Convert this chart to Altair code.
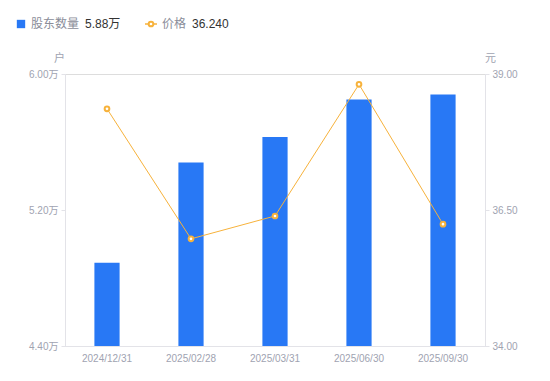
import altair as alt
import pandas as pd

dates = ["2024/12/31", "2025/02/28", "2025/03/31", "2025/06/30", "2025/09/30"]
holders = [48900, 54800, 56300, 58500, 58800]
prices = [38.36, 35.97, 36.39, 38.81, 36.24]

left_ticks = [44000, 52000, 60000]
right_ticks = [34.0, 36.5, 39.0]

BLUE = "#2878F5"
ORANGE = "#F7B23B"
GRAY = "#A0A3B1"
FONT = "Liberation Sans, Noto Sans CJK SC"

df = pd.DataFrame({"date": dates, "holders": holders, "price": prices})

xenc = alt.X(
    "date:N",
    sort=dates,
    scale=alt.Scale(paddingInner=0.7, paddingOuter=0.35),
    axis=alt.Axis(
        title=None, labelAngle=0, ticks=False, labelPadding=7,
        labelColor=GRAY, labelFontSize=10, labelFont=FONT,
        domainColor="#E3E3E8", grid=False,
    ),
)

bars = alt.Chart(df).mark_bar(color=BLUE, clip=True).encode(
    x=xenc,
    y=alt.Y(
        "holders:Q",
        scale=alt.Scale(domain=[44000, 60000], zero=False, nice=False),
        axis=alt.Axis(
            values=left_ticks,
            labelExpr="format(datum.value/10000, '.2f') + '万'",
            title="户", titleAngle=0, titleX=-6, titleY=-16,
            titleAlign="center", titleBaseline="middle",
            titleColor=GRAY, titleFontSize=11, titleFontWeight="normal", titleFont=FONT,
            labelColor=GRAY, labelFontSize=10, labelFont=FONT,
            tickSize=4, tickColor="#E3E3E8", domainColor="#E3E3E8",
            labelPadding=3, grid=False, orient="left",
        ),
    ),
)

line = alt.Chart(df).mark_line(
    color=ORANGE, strokeWidth=1,
    point=alt.OverlayMarkDef(filled=True, fill="white", stroke=ORANGE, strokeWidth=2, size=22),
).encode(
    x=alt.X("date:N", sort=dates),
    y=alt.Y(
        "price:Q",
        scale=alt.Scale(domain=[34, 39], zero=False, nice=False),
        axis=alt.Axis(
            values=right_ticks, format=".2f",
            title="元", titleAngle=0, titleX=5, titleY=-16,
            titleAlign="center", titleBaseline="middle",
            titleColor=GRAY, titleFontSize=11, titleFontWeight="normal", titleFont=FONT,
            labelColor=GRAY, labelFontSize=10, labelFont=FONT,
            tickSize=4, tickColor="#E3E3E8", domainColor="#E3E3E8",
            labelPadding=3, grid=False, orient="right",
        ),
    ),
)

# custom legend showing latest values
leg_df = pd.DataFrame({
    "name1": ["股东数量"], "val1": [f"{holders[-1]/10000:.2f}万"],
    "name2": ["价格"], "val2": [f"{prices[-1]:.3f}"],
})
base = alt.Chart(leg_df)
leg_sq = base.mark_square(color=BLUE, size=70, opacity=1, cornerRadius=2).encode(
    x=alt.value(-44), y=alt.value(-50))
leg_t1 = base.mark_text(align="left", baseline="middle", fontSize=12, color="#8A8D99", font=FONT).encode(
    x=alt.value(-34), y=alt.value(-50), text="name1:N")
leg_v1 = base.mark_text(align="left", baseline="middle", fontSize=12, color="#333333", font=FONT).encode(
    x=alt.value(20), y=alt.value(-50), text="val1:N")
leg_ln = base.mark_rule(color=ORANGE, strokeWidth=1.5).encode(
    x=alt.value(80), x2=alt.value(92), y=alt.value(-50))
leg_pt = base.mark_point(filled=True, fill="white", stroke=ORANGE, strokeWidth=2, size=22, opacity=1).encode(
    x=alt.value(86), y=alt.value(-50))
leg_t2 = base.mark_text(align="left", baseline="middle", fontSize=12, color="#8A8D99", font=FONT).encode(
    x=alt.value(97), y=alt.value(-50), text="name2:N")
leg_v2 = base.mark_text(align="left", baseline="middle", fontSize=12, color="#333333", font=FONT).encode(
    x=alt.value(127), y=alt.value(-50), text="val2:N")

chart = alt.layer(
    bars, line, leg_sq, leg_t1, leg_v1, leg_ln, leg_pt, leg_t2, leg_v2
).resolve_scale(y="independent").properties(
    width=420, height=272,
    autosize=alt.AutoSizeParams(type="none"),
    padding={"left": 57, "top": 66, "right": 57, "bottom": 27},
).configure_view(stroke=None).configure(background="white")

chart.save("out.html", embed_options={"renderer": "svg", "actions": False})
